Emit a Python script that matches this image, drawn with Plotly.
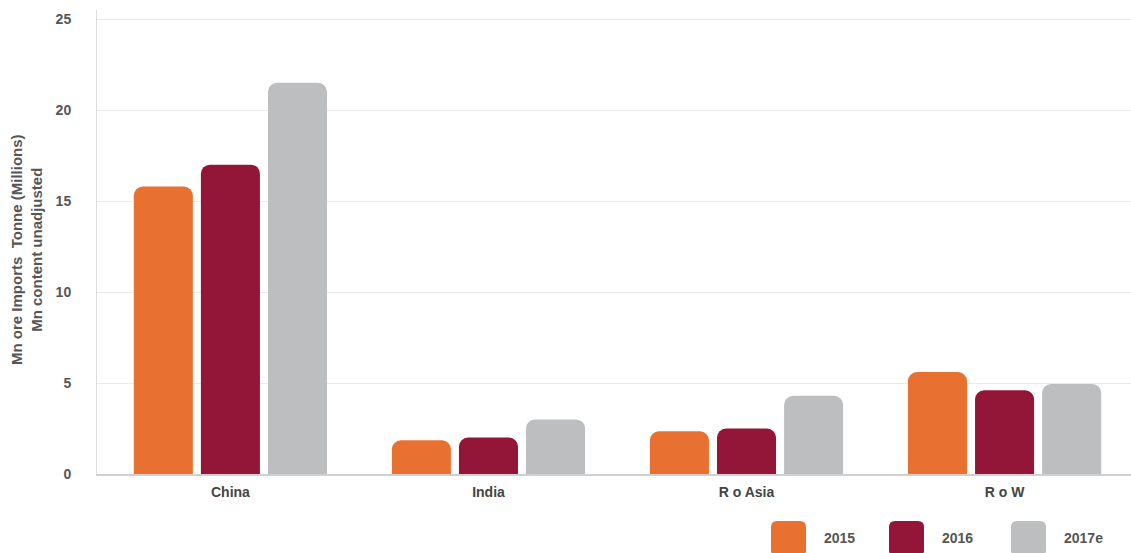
import plotly.graph_objects as go

categories = ["China", "India", "R o Asia", "R o W"]
series_names = ["2015", "2016", "2017e"]
values_2015 = [15.8, 1.85, 2.35, 5.6]
values_2016 = [17.0, 2.0, 2.5, 4.6]
values_2017e = [21.5, 3.0, 4.3, 4.95]
colors = ["#E87030", "#931638", "#BDBEC0"]
y_title = "Mn ore Imports\u00a0\u00a0Tonne (Millions)<br>Mn content unadjusted"

all_values = [values_2015, values_2016, values_2017e]
FONT = "Liberation Sans, Arial, sans-serif"

fig = go.Figure()
for name, vals, col in zip(series_names, all_values, colors):
    fig.add_trace(go.Bar(x=categories, y=vals, name=name, marker=dict(color=col, line=dict(width=0)),
                         showlegend=False))

W, H = 1131, 553
ml, mr, mt, mb = 97, 0, 10, 79
pw, ph = W - ml - mr, H - mt - mb

def px_to_paper_x(px):
    return (px - ml) / pw

def px_to_paper_y(py):
    return (H - mb - py) / ph

def rounded_square_path(x0, y0, x1, y1, r):
    # pixel coords (y downward) -> paper path with rounded corners
    X = px_to_paper_x
    Y = px_to_paper_y
    return (f"M {X(x0 + r)},{Y(y0)} L {X(x1 - r)},{Y(y0)} Q {X(x1)},{Y(y0)} {X(x1)},{Y(y0 + r)} "
            f"L {X(x1)},{Y(y1 - r)} Q {X(x1)},{Y(y1)} {X(x1 - r)},{Y(y1)} "
            f"L {X(x0 + r)},{Y(y1)} Q {X(x0)},{Y(y1)} {X(x0)},{Y(y1 - r)} "
            f"L {X(x0)},{Y(y0 + r)} Q {X(x0)},{Y(y0)} {X(x0 + r)},{Y(y0)} Z")

shapes = []
annotations = []
legend_x = [771, 889, 1011]
for name, col, lx in zip(series_names, colors, legend_x):
    shapes.append(dict(type="path", xref="paper", yref="paper",
                       path=rounded_square_path(lx, 521, lx + 35, 556, 6),
                       fillcolor=col, line=dict(width=0), layer="above"))
    annotations.append(dict(text=name, xref="paper", yref="paper", x=px_to_paper_x(lx + 51),
                            y=px_to_paper_y(538), xanchor="left", yanchor="middle", showarrow=False,
                            font=dict(family=FONT, size=14, color="#555555", weight="bold")))

annotations.append(dict(text=y_title,
                        xref="paper", yref="paper", x=px_to_paper_x(27), y=px_to_paper_y(250),
                        xanchor="center", yanchor="middle", textangle=-90, showarrow=False,
                        font=dict(family=FONT, size=15, color="#555555", weight="bold")))

fig.update_layout(
    width=W, height=H,
    margin=dict(l=ml, r=mr, t=mt, b=mb),
    paper_bgcolor="white", plot_bgcolor="white",
    barmode="group", bargap=0.22, bargroupgap=0.12, barcornerradius=9,
    font=dict(family=FONT, size=14, color="#555555", weight="bold"),
    shapes=shapes, annotations=annotations,
    xaxis=dict(range=[-0.517, 3.49], showgrid=False, showline=True, linecolor="#d0d0d0", linewidth=1.5,
               ticks="", ticklabelstandoff=4,
               tickfont=dict(family=FONT, size=14, color="#444444", weight="bold")),
    yaxis=dict(range=[0, 25.5], tickvals=[0, 5, 10, 15, 20, 25], showgrid=True,
               gridcolor="#ebebeb", gridwidth=1, zeroline=False, showline=True,
               linecolor="#dcdcdc", linewidth=1, ticks="", ticklabelstandoff=22,
               tickfont=dict(family=FONT, size=14, color="#555555", weight="bold")),
    showlegend=False,
)

fig.write_html("out.html", config={"displayModeBar": False},
               post_script="document.body.style.margin='0';document.body.style.overflow='hidden';")
